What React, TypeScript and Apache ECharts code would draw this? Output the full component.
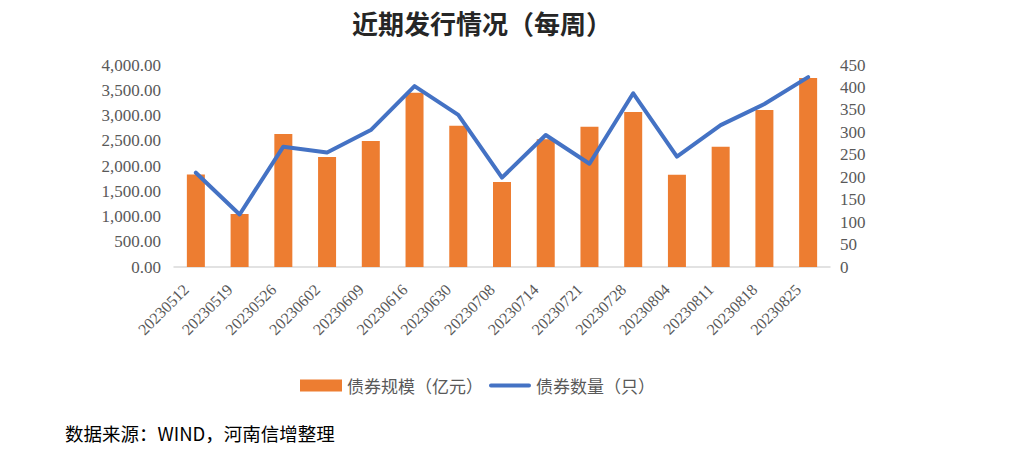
import React, { useEffect, useRef } from "react";
import * as echarts from "echarts";

const categories = [
  "20230512", "20230519", "20230526", "20230602", "20230609", "20230616", "20230630",
  "20230708", "20230714", "20230721", "20230728", "20230804", "20230811", "20230818", "20230825",
];
const bondScale = [1830, 1050, 2635, 2180, 2495, 3450, 2795, 1685, 2530, 2775, 3070, 1825, 2380, 3110, 3745];
const bondCount = [210, 117, 268, 255, 305, 403, 339, 199, 294, 230, 387, 246, 316, 363, 423];

const NUM_FONT = "'Liberation Serif', 'Noto Sans CJK SC', serif";
const CJK_FONT = "'Noto Sans CJK SC', sans-serif";

function fmt(v: number) {
  return v.toLocaleString("en-US", { minimumFractionDigits: 2, maximumFractionDigits: 2 });
}

export default function App() {
  const ref = useRef<HTMLDivElement>(null);
  useEffect(() => {
    if (!ref.current) return;
    const chart = echarts.init(ref.current, undefined, { renderer: "svg" });
    chart.setOption({
      animation: false,
      backgroundColor: "#ffffff",
      title: {
        text: "近期发行情况（每周）",
        left: 477,
        textAlign: "center",
        top: 4,
        textStyle: { fontFamily: CJK_FONT, fontSize: 26, fontWeight: "bold", color: "#262626" },
      },
      legend: {
        left: 295,
        top: 372,
        itemWidth: 42,
        itemHeight: 12,
        itemGap: 6,
        data: [
          { name: "债券规模（亿元）", icon: "rect" },
          {
            name: "债券数量（只）",
            icon: "path://M2,0 L42,0 A2,2 0 0 1 42,4 L2,4 A2,2 0 0 1 2,0 Z",
          },
        ],
        textStyle: { fontFamily: CJK_FONT, fontSize: 17, color: "#595959" },
      },
      graphic: [
        {
          type: "text",
          left: 65,
          top: 424,
          style: {
            text: "数据来源：WIND，河南信增整理",
            fontFamily: CJK_FONT,
            fontSize: 18.5,
            fill: "#000000",
          },
        },
      ],
      grid: { left: 174, right: 184, top: 65, bottom: 191, containLabel: false },
      xAxis: {
        type: "category",
        data: categories,
        axisTick: { show: false },
        axisLine: { lineStyle: { color: "#D9D9D9", width: 1.5 } },
        axisLabel: {
          rotate: 45,
          interval: 0,
          margin: 10,
          formatter: (v: string) => "{a|" + v + "}",
          rich: {
            a: {
              fontFamily: NUM_FONT,
              fontSize: 16,
              color: "#595959",
              padding: [0, 14, 0, 0],
            },
          },
        },
      },
      yAxis: [
        {
          type: "value",
          min: 0,
          max: 4000,
          interval: 500,
          splitLine: { show: false },
          axisLine: { show: false },
          axisTick: { show: false },
          axisLabel: {
            formatter: (v: number) => fmt(v),
            fontFamily: NUM_FONT,
            fontSize: 17,
            color: "#595959",
            margin: 13,
          },
        },
        {
          type: "value",
          min: 0,
          max: 450,
          interval: 50,
          splitLine: { show: false },
          axisLine: { show: false },
          axisTick: { show: false },
          axisLabel: {
            fontFamily: NUM_FONT,
            fontSize: 17,
            color: "#595959",
            margin: 10,
          },
        },
      ],
      series: [
        {
          name: "债券规模（亿元）",
          type: "bar",
          data: bondScale,
          barWidth: 18,
          itemStyle: { color: "#ED7D31" },
          yAxisIndex: 0,
        },
        {
          name: "债券数量（只）",
          type: "line",
          data: bondCount,
          yAxisIndex: 1,
          symbol: "none",
          showSymbol: false,
          lineStyle: { color: "#4472C4", width: 4, cap: "round", join: "round" },
          itemStyle: { color: "#4472C4" },
        },
      ],
    });
    return () => chart.dispose();
  }, []);
  return (
    <div
      ref={ref}
      style={{ position: "fixed", left: 0, top: 0, width: 1014, height: 458 }}
    />
  );
}
